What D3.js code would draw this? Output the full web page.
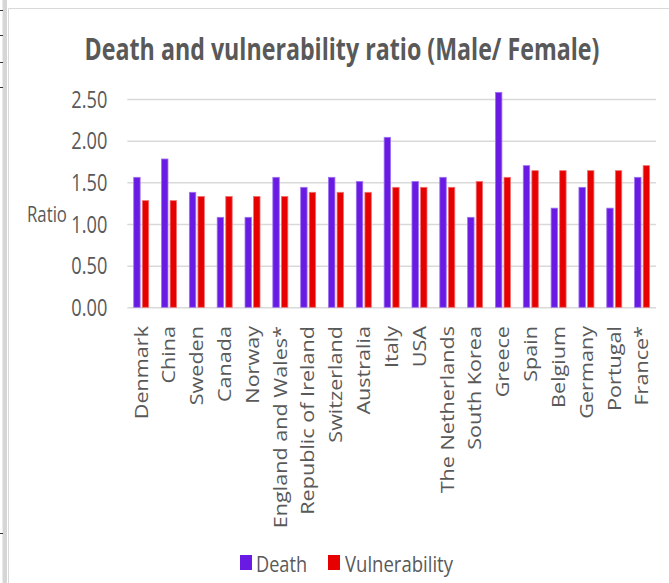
<!DOCTYPE html>
<html><head><meta charset="utf-8">
<script src="https://cdn.jsdelivr.net/npm/d3@7"></script>
<style>html,body{margin:0;padding:0;background:#fff;} svg{display:block;}</style>
</head><body>
<svg id="chart" width="669" height="583"></svg>
<script>
const categories = ["Denmark","China","Sweden","Canada","Norway","England and Wales*","Republic of Ireland","Switzerland","Australia","Italy","USA","The Netherlands","South Korea","Greece","Spain","Belgium","Germany","Portugal","France*"];
const seriesNames = ["Death","Vulnerability"];
const deathValues = [1.56,1.78,1.38,1.08,1.08,1.56,1.44,1.56,1.51,2.04,1.51,1.56,1.08,2.58,1.70,1.19,1.44,1.19,1.56];
const vulnerabilityValues = [1.28,1.28,1.33,1.33,1.33,1.33,1.38,1.38,1.38,1.44,1.44,1.44,1.51,1.56,1.64,1.64,1.64,1.64,1.70];
const yTickValues = [0,0.5,1,1.5,2,2.5];
const titleText = "Death and vulnerability ratio (Male/ Female)";
const yAxisTitle = "Ratio";

const fills = ["#6A1BE3","#E60000"];
const strokes = ["#9C72F0","#F07070"];
const textColor = "#595959";
const W = 669, H = 583;
const plotL = 127.3, plotR = 656, yTop = 99, yBottom = 307.3;

const svg = d3.select("#chart");
svg.append("rect").attr("width", W).attr("height", H).attr("fill", "#fff");

// sheet edge artefacts
svg.append("rect").attr("x", 2.5).attr("y", 0).attr("width", 4.5).attr("height", H).attr("fill", "#d6d6d6");
[10,35,62,87,533].forEach(yy => svg.append("line").attr("x1",0).attr("x2",3).attr("y1",yy+0.5).attr("y2",yy+0.5).attr("stroke","#333"));
// chart border
svg.append("path").attr("d", `M8.5,${H}V8.5H${W}`).attr("fill","none").attr("stroke","#d9d9d9");

const x = d3.scaleBand().domain(categories).range([plotL, plotR]).padding(0);
const x1 = d3.scaleBand().domain(seriesNames).range([-7.5, 7.5]).paddingInner(0.25);
const y = d3.scaleLinear().domain([0, 2.5]).range([yBottom, yTop]);

// gridlines
const grid = svg.append("g").attr("transform", `translate(${plotL},0)`)
  .call(d3.axisLeft(y).tickValues(yTickValues).tickSize(-(plotR - plotL)).tickFormat(""));
grid.select(".domain").remove();
grid.selectAll("line").attr("stroke", "#d9d9d9").attr("stroke-width", 1.5);

// y tick labels (narrow, tall glyphs: small font stretched vertically)
const yLab = svg.append("g").attr("transform", `translate(${plotL},0)`)
  .call(d3.axisLeft(y).tickValues(yTickValues).tickSize(0).tickFormat(d3.format(".2f")));
yLab.select(".domain").remove();
yLab.selectAll("text").attr("font-family","'Open Sans', sans-serif").attr("font-size", 23).attr("fill", textColor);
let natural = 0;
yLab.selectAll("text").each(function(){ natural = Math.max(natural, this.getComputedTextLength()); });
const sx = natural > 0 ? 36 / natural : 0.78;
const fTick = 23 * sx;
yLab.selectAll("text").attr("x", 0).attr("font-size", fTick).attr("dy", "0.35em")
  .attr("transform", `translate(-20,0) scale(1,${1 / sx})`);

// bars
const seriesData = [deathValues, vulnerabilityValues];
seriesNames.forEach((s, si) => {
  svg.append("g").selectAll("rect").data(categories).join("rect")
    .attr("x", (c) => x(c) + x.bandwidth()/2 + x1(s))
    .attr("y", (c, i) => y(seriesData[si][i]))
    .attr("width", x1.bandwidth())
    .attr("height", (c, i) => y(0) - y(seriesData[si][i]))
    .attr("fill", fills[si])
    .attr("stroke", strokes[si])
    .attr("stroke-width", 0.8);
});

// category labels
svg.append("g").selectAll("text").data(categories).join("text")
  .attr("transform", c => `translate(${x(c) + x.bandwidth()/2},326) rotate(-90) scale(1.2,1)`)
  .attr("text-anchor", "end")
  .attr("dy", "0.35em")
  .attr("font-family", "'Open Sans', sans-serif")
  .attr("font-size", 18)
  .attr("fill", textColor)
  .text(c => c);

// y axis title
const yt = svg.append("text")
  .attr("font-family","'Open Sans', sans-serif").attr("font-size", 22)
  .attr("fill", textColor).text(yAxisTitle);
const ytw = yt.node().getComputedTextLength();
const fYt = ytw > 0 ? 22 * 40 / ytw : 17;
yt.attr("font-size", fYt).attr("transform", `translate(27,222) scale(1,${22 / fYt})`);

// title: size chosen so natural width fits, stretched vertically
const title = svg.append("text").attr("text-anchor", "middle")
  .attr("font-family","'Open Sans', sans-serif").attr("font-weight","bold").attr("font-size", 30)
  .attr("fill", textColor).text(titleText);
const tw = title.node().getComputedTextLength();
const fTitle = tw > 0 ? 30 * 515 / tw : 21.5;
title.attr("font-size", fTitle).attr("transform", `translate(342,60) scale(1,${30 / fTitle})`);

// legend
const legendX = [240, 328], legendTextX = [256, 345], legendTextLen = [51, 108];
seriesNames.forEach((s, si) => {
  svg.append("rect").attr("x", legendX[si]).attr("y", 555).attr("width", 12).attr("height", 15).attr("fill", fills[si]);
  svg.append("text").attr("x", legendTextX[si]).attr("y", 572)
    .attr("font-family","'Open Sans', sans-serif").attr("font-size", 21)
    .attr("textLength", legendTextLen[si]).attr("lengthAdjust", "spacingAndGlyphs")
    .attr("fill", textColor).text(s);
});
</script>
</body></html>
